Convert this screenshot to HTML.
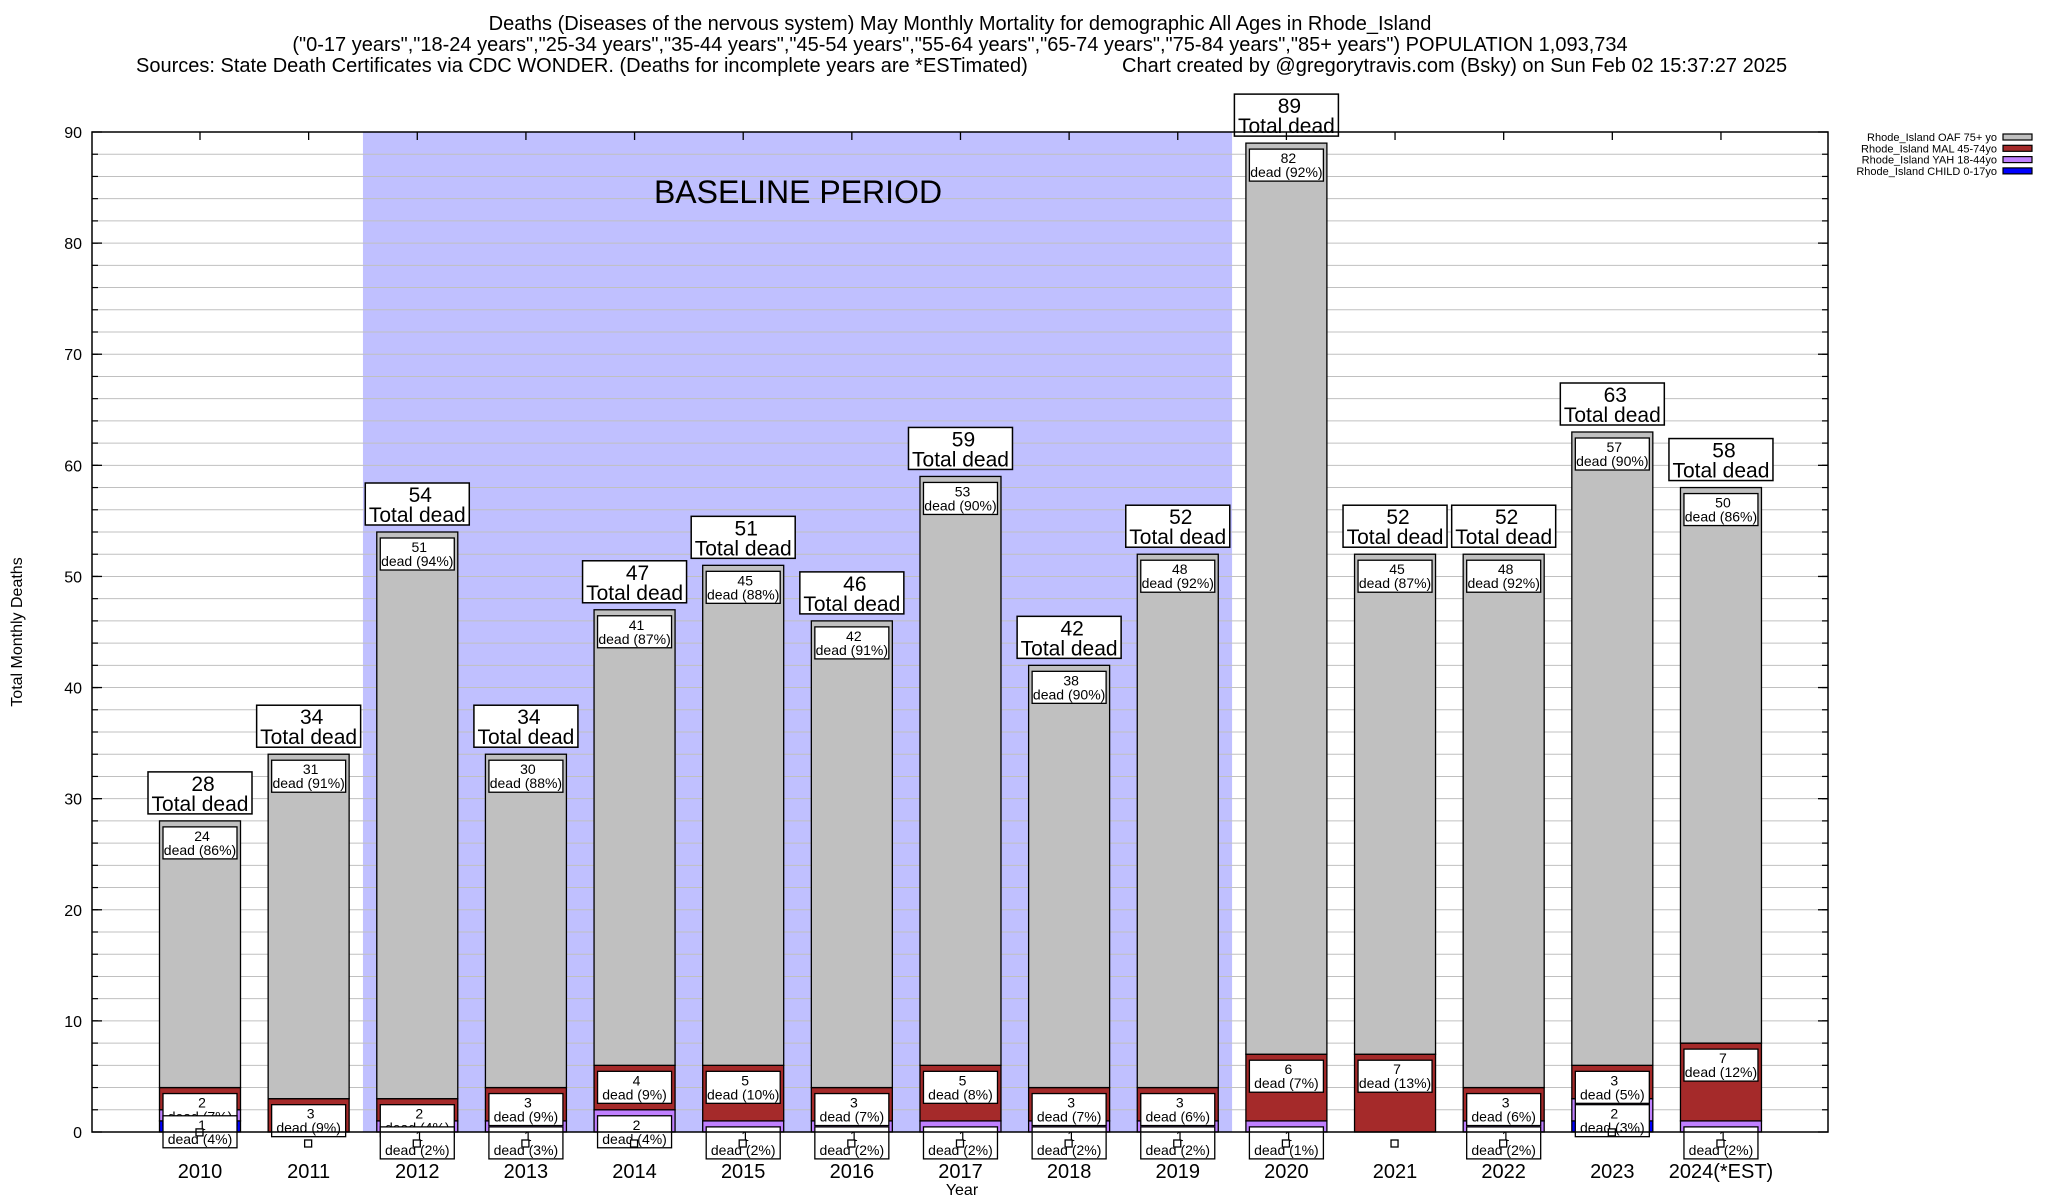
<!DOCTYPE html>
<html><head><meta charset="utf-8"><style>
html,body{margin:0;padding:0;background:#fff}
svg{display:block;font-family:"Liberation Sans",Arial,sans-serif}
</style></head><body>
<svg id="chart" width="2048" height="1200" viewBox="0 0 2048 1200" xmlns="http://www.w3.org/2000/svg">
<g font-size="20" text-anchor="middle">
<text x="960" y="30">Deaths (Diseases of the nervous system) May Monthly Mortality for demographic All Ages in Rhode_Island</text>
<text x="960" y="51">("0-17 years","18-24 years","25-34 years","35-44 years","45-54 years","55-64 years","65-74 years","75-84 years","85+ years") POPULATION 1,093,734</text>
<text x="136" y="72" text-anchor="start">Sources: State Death Certificates via CDC WONDER. (Deaths for incomplete years are *ESTimated)</text>
<text x="1122" y="72" text-anchor="start">Chart created by @gregorytravis.com (Bsky) on Sun Feb 02 15:37:27 2025</text>
</g>
<g id="plot"></g>
</svg>
<script>
const years = ['2010','2011','2012','2013','2014','2015','2016','2017','2018','2019','2020','2021','2022','2023','2024(*EST)'];
const oaf   = [24,31,51,30,41,45,42,53,38,48,82,45,48,57,50];
const mal   = [2,3,2,3,4,5,3,5,3,3,6,7,3,3,7];
const yah   = [1,0,1,1,2,1,1,1,1,1,1,0,1,2,1];
const child = [1,0,0,0,0,0,0,0,0,0,0,0,0,1,0];
const yTicks = [0,10,20,30,40,50,60,70,80,90];
const legendLabels = ['Rhode_Island OAF 75+ yo','Rhode_Island MAL 45-74yo','Rhode_Island YAH 18-44yo','Rhode_Island CHILD 0-17yo'];

const NS='http://www.w3.org/2000/svg';
const L=92,R=1828,T=132,B=1132,YMAX=90;
const X0=200,DX=108.64,BW=81;
const y=v=>B-(B-T)*v/YMAX;
const x=i=>X0+i*DX;
const plot=document.getElementById('plot');
function mk(tag,attrs,parent,txt){const e=document.createElementNS(NS,tag);for(const k in attrs)e.setAttribute(k,attrs[k]);if(txt!==undefined)e.textContent=txt;(parent||plot).appendChild(e);return e;}

const bs=mk('rect',{x:x(1.5),y:T,width:x(9.5)-x(1.5),height:B-T,fill:'#c0c0ff'});


for(let v=2;v<YMAX;v+=2){const g=mk('line',{x1:L,x2:R,y1:y(v),y2:y(v),stroke:'#c0c0c0','stroke-width':1});

}
const bt=mk('text',{x:798,y:203,'font-size':32,'text-anchor':'middle'},plot,'BASELINE PERIOD');



const colors=['#0000ff','#c080ff','#a52a2a','#c0c0c0'];
const series=[child,yah,mal,oaf];
const names=['child','yah','mal','oaf'];
years.forEach((yr,i)=>{
  const g=mk('g',{});
  
  
  const total=oaf[i]+mal[i]+yah[i]+child[i];
  let base=0;const tops=[];
  series.forEach((s,k)=>{
    const v=s[i];tops.push(base+v);
    if(v>0){const r=mk('rect',{x:x(i)-BW/2,y:y(base+v),width:BW,height:y(base)-y(base+v),fill:colors[k],stroke:'#000','stroke-width':1.3},g);
      
      }
    base+=v;
  });
  [3,2,1].forEach(k=>{
    const v=series[k][i];if(v<=0)return;
    const top=y(tops[k]);
    const lb=mk('g',{},g);
    
    
    mk('rect',{x:x(i)-37,y:top+6,width:74,height:32,fill:'#fff',stroke:'#000','stroke-width':1.3},lb);
    mk('text',{x:x(i)+2,y:top+20,'font-size':14,'text-anchor':'middle'},lb,String(v));
    mk('text',{x:x(i),y:top+34,'font-size':14,'text-anchor':'middle'},lb,'dead ('+Math.round(v/total*100)+'%)');
  });
  const sq=mk('rect',{x:x(i)-4,y:y(tops[0])+8,width:7,height:7,fill:'#fff',stroke:'#000','stroke-width':1.3},g);
  
  
  const tb=mk('g',{},g);
  
  
  const ty=y(total);
  mk('rect',{x:x(i)-52,y:ty-49,width:104,height:42,fill:'#fff',stroke:'#000','stroke-width':1.5},tb);
  mk('text',{x:x(i)+3,y:ty-30,'font-size':21,'text-anchor':'middle'},tb,String(total));
  mk('text',{x:x(i),y:ty-10,'font-size':21,'text-anchor':'middle'},tb,'Total dead');
  const xl=mk('text',{x:x(i),y:1178,'font-size':20,'text-anchor':'middle'},plot,yr);
  
  
  const tk=mk('line',{x1:x(i),x2:x(i),y1:T,y2:T+8,stroke:'#000','stroke-width':1.3});
  
  
});
const fr=mk('rect',{x:L,y:T,width:R-L,height:B-T,fill:'none',stroke:'#000','stroke-width':1.5});


for(let v=2;v<YMAX;v+=2){mk('line',{x1:L,x2:L+6,y1:y(v),y2:y(v),stroke:'#000','stroke-width':1.2});mk('line',{x1:R-6,x2:R,y1:y(v),y2:y(v),stroke:'#000','stroke-width':1.2});}
yTicks.forEach(v=>{
  mk('line',{x1:L,x2:L+10,y1:y(v),y2:y(v),stroke:'#000','stroke-width':1.3});
  mk('line',{x1:R-10,x2:R,y1:y(v),y2:y(v),stroke:'#000','stroke-width':1.3});
  const t=mk('text',{x:82,y:y(v)+6,'font-size':16,'text-anchor':'end'},plot,String(v));
  
  
});
const yt=mk('text',{x:22,y:632,'font-size':16,'text-anchor':'middle',transform:'rotate(-90 22 632)'},plot,'Total Monthly Deaths');


const xt=mk('text',{x:962,y:1195,'font-size':16,'text-anchor':'middle'},plot,'Year');


const lg=mk('g',{});


const lcol=['#c0c0c0','#a52a2a','#c080ff','#0000ff'];
legendLabels.forEach((s,k)=>{
  const e=mk('g',{},lg);
  
  
  const yy=137+k*11.3;
  mk('text',{x:1997,y:yy+4,'font-size':11,'text-anchor':'end'},e,s);
  mk('rect',{x:2003,y:yy-3,width:29,height:6,fill:lcol[k],stroke:'#000','stroke-width':1.2},e);
});
</script>
</body></html>
